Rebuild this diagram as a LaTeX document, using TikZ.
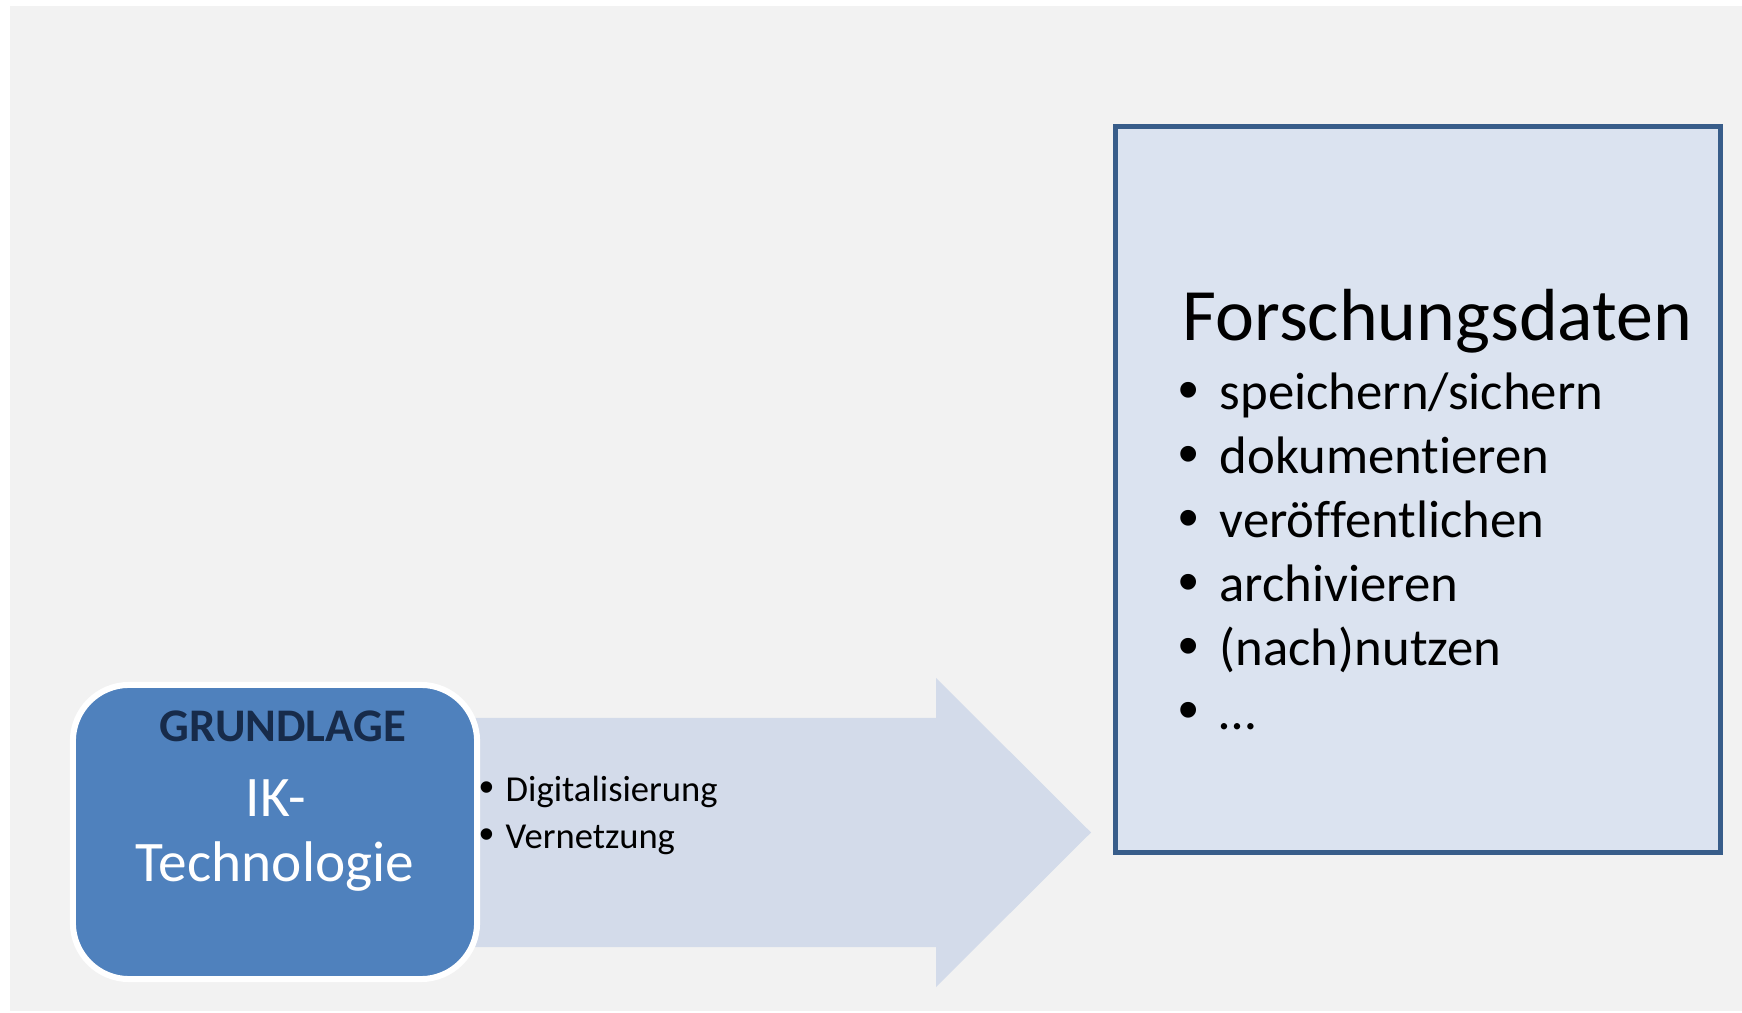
\documentclass[tikz,border=0pt]{standalone}
\usepackage{fontspec}
\setmainfont{Carlito}[Ligatures=CommonOff]
\newfontfamily\bulletfont{Liberation Sans}
\usetikzlibrary{positioning}
\definecolor{fdgray}{RGB}{242,242,242}
\definecolor{fdblue}{RGB}{79,129,189}
\definecolor{fdnavy}{RGB}{23,43,74}
\definecolor{fdframe}{RGB}{56,93,138}
\definecolor{fdpale}{RGB}{219,227,240}
\definecolor{fdarrow}{RGB}{211,219,234}

\begin{document}
\begin{tikzpicture}[
  x=0.01cm, y=-0.01cm,
  basisbox/.style={rectangle, rounded corners=16pt, draw=white, line width=1.7pt,
    fill=fdblue, minimum width=4.04cm, minimum height=2.94cm},
  datenbox/.style={rectangle, draw=fdframe, line width=1.4pt, fill=fdpale,
    minimum width=6.05cm, minimum height=7.26cm},
  label/.style={inner sep=0pt, anchor=base},
  item/.style={inner sep=0pt, anchor=base west},
  bul/.style={inner sep=0pt, anchor=base, font=\bulletfont}
]
\useasboundingbox (0,0) rectangle (1742,1013);
\fill[fdgray] (10,6) rectangle (1742,1011);

% broad arrow towards the data box
\fill[fdarrow] (440,718) -- (936,718) -- (936,678) -- (1091,832.5)
  -- (936,987) -- (936,947) -- (440,947) -- cycle;

\node[basisbox] (basis) at (275,832) {};
\node[datenbox] (daten) at (1418,489.5) {};

% text in the blue box
\node[label, text=fdnavy, font=\bfseries\fontsize{13.3}{16}\selectfont]
  (grund) at (283,742) {GRUNDLAGE};
\node[label, text=white, font=\fontsize{16.3}{19}\selectfont] (ik) at (276,817) {IK-};
\node[label, text=white, font=\fontsize{16.3}{19}\selectfont] (tech) at (275,882) {Technologie};

% points on the arrow
\foreach \txt [count=\i] in {Digitalisierung, Vernetzung} {
  \node[bul, font=\bulletfont\fontsize{12}{14}\selectfont] (lb\i) at (487,755+47*\i) {•};
  \node[item, font=\fontsize{10.4}{12}\selectfont] (l\i) at (505,755+47*\i) {\txt};
}

% list in the data box
\node[item, font=\fontsize{21}{25}\selectfont] (titel) at (1182,341) {Forschungsdaten};
\foreach \txt [count=\i] in {speichern/sichern, dokumentieren, veröffentlichen,
    archivieren, (nach)nutzen, …} {
  \node[bul, font=\bulletfont\fontsize{16.5}{18}\selectfont] (pb\i) at (1189,346+64*\i) {•};
  \node[item, font=\fontsize{15}{18}\selectfont] (p\i) at (1219,346+64*\i) {\txt};
}
\end{tikzpicture}
\end{document}
